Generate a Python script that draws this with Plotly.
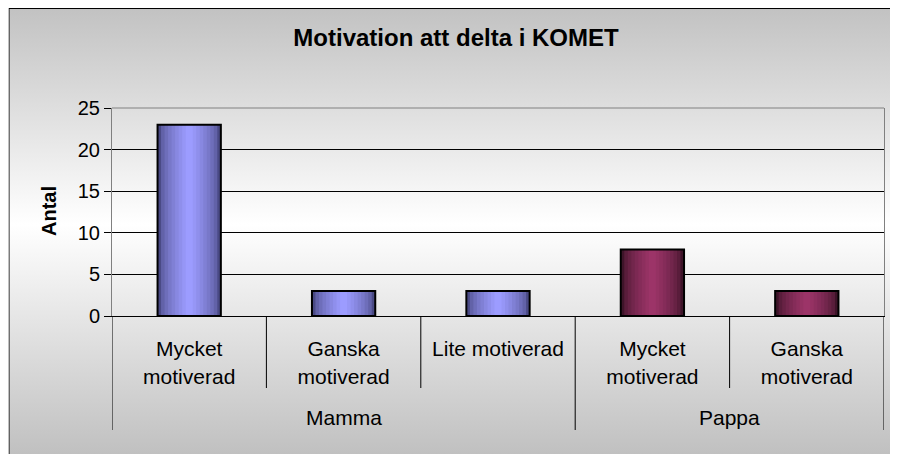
import base64
import plotly.graph_objects as go

# donnees
title = "Motivation att delta i KOMET"
y_title = "Antal"
groups = ["Mamma", "Mamma", "Mamma", "Pappa", "Pappa"]
categories = ["Mycket<br>motiverad", "Ganska<br>motiverad", "Lite motiverad",
              "Mycket<br>motiverad", "Ganska<br>motiverad"]
counts = [23, 3, 3, 8, 3]
y_ticks = [0, 5, 10, 15, 20, 25]

# couleurs (bord sombre, centre clair) pour l'effet cylindre
group_colors = {"Mamma": ("#4a4a85", "#9c9cff"), "Pappa": ("#3e1429", "#9c3468")}

# la page a une marge de 8 px : coordonnees de la figure = page - 8
W, H = 890, 446
L, R, T, B = 104, 876, 100, 308
FONT = "Arial, Liberation Sans, sans-serif"


def mix(c1, c2, t):
    a = [int(c1[i:i + 2], 16) for i in (1, 3, 5)]
    b = [int(c2[i:i + 2], 16) for i in (1, 3, 5)]
    return "#" + "".join(f"{round(x + (y - x) * t):02x}" for x, y in zip(a, b))


positions = list(range(len(categories)))
fig = go.Figure()

bar_w = 0.41
n_layers = 9
for group, (dark, light) in group_colors.items():
    idx = [i for i, g in enumerate(groups) if g == group]
    xs = [positions[i] for i in idx]
    ys = [counts[i] for i in idx]
    for k in range(n_layers):
        fig.add_bar(
            x=xs, y=ys, width=bar_w * (1 - k / n_layers),
            marker=dict(color=mix(dark, light, (k / (n_layers - 1)) ** 0.6),
                        line=dict(width=0)),
            hoverinfo="skip", showlegend=False,
        )
    fig.add_bar(
        x=xs, y=ys, width=bar_w,
        marker=dict(color="rgba(0,0,0,0)", line=dict(color="black", width=2)),
        showlegend=False, name=group,
    )

# fond degrade gris-blanc-gris avec cadre
svg = (
    '<svg xmlns="http://www.w3.org/2000/svg" width="900" height="460" '
    'viewBox="0 0 900 460" preserveAspectRatio="none">'
    '<defs><linearGradient id="g" x1="0" y1="0" x2="0" y2="1">'
    '<stop offset="0" stop-color="#c2c2c2"/>'
    '<stop offset="0.46" stop-color="#ffffff"/>'
    '<stop offset="0.95" stop-color="#c0c0c0"/>'
    '<stop offset="1" stop-color="#bebebe"/>'
    '</linearGradient></defs>'
    '<rect x="0.5" y="0.5" width="905" height="470" fill="url(#g)" '
    'stroke="black" stroke-width="1"/></svg>'
)
src = "data:image/svg+xml;base64," + base64.b64encode(svg.encode()).decode()
pw, ph = R - L, B - T
fig.add_layout_image(
    source=src, xref="paper", yref="paper",
    x=(0.5 - L) / pw, y=(B - 0) / ph,
    sizex=900 / pw, sizey=460 / ph,
    sizing="stretch", xanchor="left", yanchor="top", layer="below",
)

fig.update_layout(
    width=W, height=H,
    margin=dict(l=L, r=W - R, t=T, b=H - B, autoexpand=False),
    paper_bgcolor="white", plot_bgcolor="white",
    barmode="overlay",
    font=dict(family=FONT, color="black"),
    title=dict(text=f"<b>{title}</b>", x=448 / W, xanchor="center",
               y=1 - 30 / H, yanchor="middle", font=dict(size=24)),
)

fig.update_xaxes(
    range=[-0.5, len(categories) - 0.5], tickvals=positions, ticktext=categories,
    showline=True, linecolor="black", linewidth=1, ticks="",
    ticklabelstandoff=14, tickfont=dict(size=21), showgrid=False, zeroline=False,
)
fig.update_yaxes(
    range=[0, 25], tickvals=y_ticks, showgrid=True, gridcolor="black",
    gridwidth=1, zeroline=False,
    showline=True, linecolor="#808080", mirror=True,
    ticks="outside", ticklen=7, tickcolor="black",
    tickfont=dict(size=20),
)

# bord superieur gris de la zone de trace
fig.add_shape(type="line", xref="paper", yref="paper", x0=0, x1=1, y0=1, y1=1,
              line=dict(color="#808080", width=1), layer="above")

# separateurs des categories et des groupes sous l'axe
inner_len, outer_len = 72 / ph, 114 / ph
for i in range(len(categories) + 1):
    b = i - 0.5
    new_group = i == 0 or i == len(categories) or groups[i] != groups[i - 1]
    fig.add_shape(type="line", xref="x", yref="paper", x0=b, x1=b, y0=0,
                  y1=-(outer_len if new_group else inner_len),
                  line=dict(color="black", width=1))

for group in dict.fromkeys(groups):
    idx = [positions[i] for i, g in enumerate(groups) if g == group]
    fig.add_annotation(text=group, xref="x", yref="paper",
                       x=(idx[0] + idx[-1]) / 2, y=(B - 409) / ph,
                       showarrow=False, xanchor="center", yanchor="middle",
                       font=dict(size=21))

fig.add_annotation(text=f"<b>{y_title}</b>", textangle=-90, xref="paper", yref="paper",
                   x=(41 - L) / pw, y=(B - 203) / ph, showarrow=False,
                   xanchor="center", yanchor="middle", font=dict(size=20))

fig.write_html("out.html")
